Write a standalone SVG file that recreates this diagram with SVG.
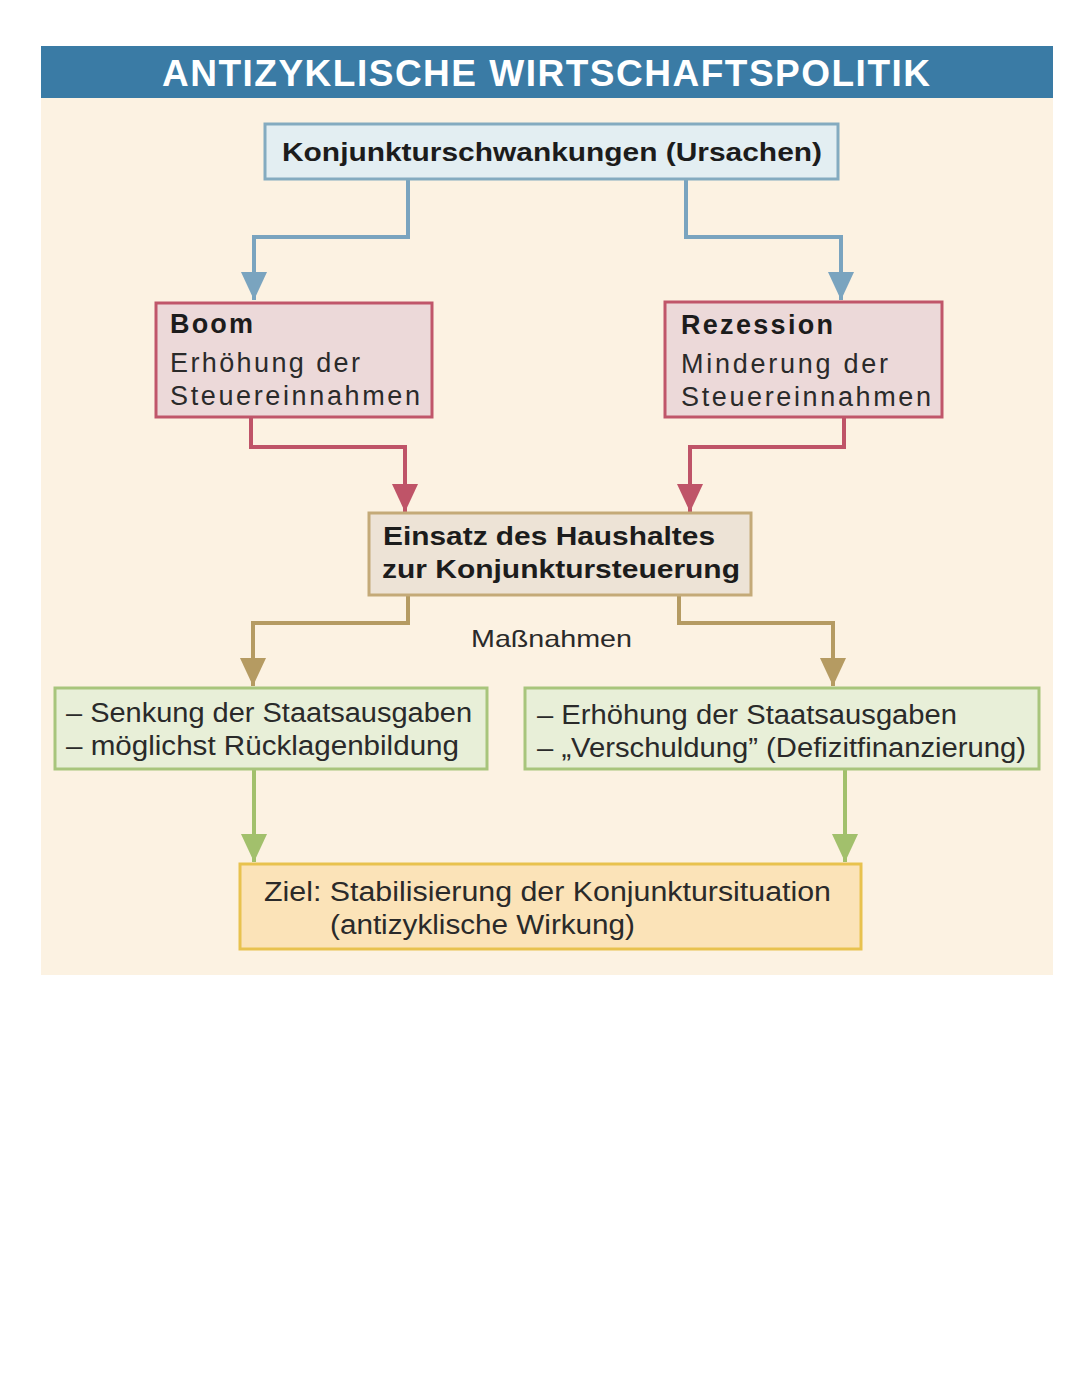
<svg xmlns="http://www.w3.org/2000/svg" width="1080" height="1394" viewBox="0 0 1080 1394">
<defs>
<style>
.t{font-family:"Liberation Sans","DejaVu Sans",sans-serif;fill:#2a2a2a}
.b{font-weight:bold;fill:#1c1c1c}
.c{fill:none;stroke-width:4}
</style>
<marker id="aB" markerUnits="userSpaceOnUse" markerWidth="28" markerHeight="26" refX="28" refY="13" orient="auto" viewBox="0 0 28 26"><path d="M0,0 L28,13 L0,26 Z" fill="#7aa4bf"/></marker>
<marker id="aR" markerUnits="userSpaceOnUse" markerWidth="28" markerHeight="26" refX="28" refY="13" orient="auto" viewBox="0 0 28 26"><path d="M0,0 L28,13 L0,26 Z" fill="#bf5468"/></marker>
<marker id="aT" markerUnits="userSpaceOnUse" markerWidth="28" markerHeight="26" refX="28" refY="13" orient="auto" viewBox="0 0 28 26"><path d="M0,0 L28,13 L0,26 Z" fill="#b59b62"/></marker>
<marker id="aG" markerUnits="userSpaceOnUse" markerWidth="28" markerHeight="26" refX="28" refY="13" orient="auto" viewBox="0 0 28 26"><path d="M0,0 L28,13 L0,26 Z" fill="#a2c06c"/></marker>
</defs>
<rect width="1080" height="1394" fill="#ffffff"/>
<rect x="41" y="98" width="1012" height="877" fill="#fcf2e2"/>
<g id="header">
<rect x="41" y="46" width="1012" height="52" fill="#3a7ba5"/>
<text x="162" y="86" font-family="Liberation Sans, sans-serif" font-weight="bold" font-size="37" fill="#ffffff" textLength="768" lengthAdjust="spacing">ANTIZYKLISCHE WIRTSCHAFTSPOLITIK</text>
</g>
<g id="connectors">
<path class="c" stroke="#7aa4bf" d="M408,179 V237 H254 V300" marker-end="url(#aB)"/>
<path class="c" stroke="#7aa4bf" d="M686,179 V237 H841 V300" marker-end="url(#aB)"/>
<path class="c" stroke="#bf5468" d="M251,417 V447 H405 V512" marker-end="url(#aR)"/>
<path class="c" stroke="#bf5468" d="M844,417 V447 H690 V512" marker-end="url(#aR)"/>
<path class="c" stroke="#b59b62" d="M408,595 V623 H253 V686" marker-end="url(#aT)"/>
<path class="c" stroke="#b59b62" d="M679,595 V623 H833 V686" marker-end="url(#aT)"/>
<path class="c" stroke="#a2c06c" d="M254,769 V862" marker-end="url(#aG)"/>
<path class="c" stroke="#a2c06c" d="M845,769 V862" marker-end="url(#aG)"/>
</g>
<g id="n-ursachen">
<rect x="265" y="124" width="573" height="55" fill="#e3eef2" stroke="#84abc0" stroke-width="3"/>
<text class="t b" x="282" y="161" font-size="26" textLength="540" lengthAdjust="spacingAndGlyphs">Konjunkturschwankungen (Ursachen)</text>
</g>
<g id="n-boom">
<rect x="156" y="303" width="276" height="114" fill="#ecd9d9" stroke="#c0566a" stroke-width="3"/>
<text class="t b" x="170" y="333" font-size="27" textLength="83" lengthAdjust="spacing">Boom</text>
<text class="t" x="170" y="372" font-size="27" textLength="190" lengthAdjust="spacing">Erhöhung der</text>
<text class="t" x="170" y="405" font-size="27" textLength="250" lengthAdjust="spacing">Steuereinnahmen</text>
</g>
<g id="n-rezession">
<rect x="665" y="302" width="277" height="115" fill="#ecd9d9" stroke="#c0566a" stroke-width="3"/>
<text class="t b" x="681" y="334" font-size="27" textLength="152" lengthAdjust="spacing">Rezession</text>
<text class="t" x="681" y="373" font-size="27" textLength="207" lengthAdjust="spacing">Minderung der</text>
<text class="t" x="681" y="406" font-size="27" textLength="250" lengthAdjust="spacing">Steuereinnahmen</text>
</g>
<g id="n-haushalt">
<rect x="369" y="513" width="382" height="82" fill="#ede3d6" stroke="#c4aa78" stroke-width="3"/>
<text class="t b" x="383" y="545" font-size="26" textLength="332" lengthAdjust="spacingAndGlyphs">Einsatz des Haushaltes</text>
<text class="t b" x="382" y="578" font-size="26" textLength="358" lengthAdjust="spacingAndGlyphs">zur Konjunktursteuerung</text>
</g>
<g id="l-massnahmen">
<text class="t" x="471" y="647" font-size="24" textLength="161" lengthAdjust="spacingAndGlyphs">Maßnahmen</text>
</g>
<g id="n-senkung">
<rect x="55" y="688" width="432" height="81" fill="#e8efd8" stroke="#a8c57c" stroke-width="3"/>
<text class="t" x="66" y="722" font-size="27" textLength="406" lengthAdjust="spacingAndGlyphs">– Senkung der Staatsausgaben</text>
<text class="t" x="66" y="755" font-size="27" textLength="393" lengthAdjust="spacingAndGlyphs">– möglichst Rücklagenbildung</text>
</g>
<g id="n-erhoehung">
<rect x="525" y="688" width="514" height="81" fill="#e8efd8" stroke="#a8c57c" stroke-width="3"/>
<text class="t" x="537" y="724" font-size="27" textLength="420" lengthAdjust="spacingAndGlyphs">– Erhöhung der Staatsausgaben</text>
<text class="t" x="537" y="757" font-size="27" textLength="489" lengthAdjust="spacingAndGlyphs">– „Verschuldung” (Defizitfinanzierung)</text>
</g>
<g id="n-ziel">
<rect x="240" y="864" width="621" height="85" fill="#fbe3b8" stroke="#e8c24e" stroke-width="3"/>
<text class="t" x="264" y="901" font-size="27" textLength="567" lengthAdjust="spacingAndGlyphs">Ziel: Stabilisierung der Konjunktursituation</text>
<text class="t" x="330" y="934" font-size="27" textLength="305" lengthAdjust="spacingAndGlyphs">(antizyklische Wirkung)</text>
</g>
</svg>
